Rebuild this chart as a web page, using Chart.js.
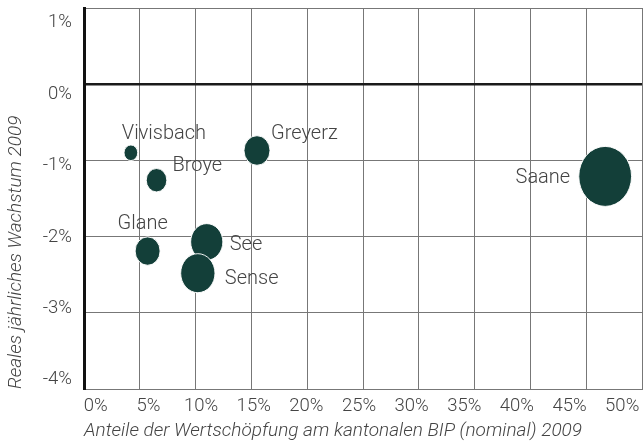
<!DOCTYPE html>
<html>
<head>
<meta charset="utf-8">
<script src="https://cdn.jsdelivr.net/npm/chart.js@4"></script>
<style>
  html, body { margin: 0; padding: 0; background: #fff; }
  #wrap { width: 643px; height: 447px; }
</style>
</head>
<body>
<div id="wrap"><canvas id="chart" width="643" height="447"></canvas></div>
<script>
// Bezirke: Anteil am kantonalen BIP (%) vs. reales Wachstum 2009 (%)
const regions = ["Vivisbach", "Broye", "Greyerz", "Saane", "Glane", "See", "Sense"];
const shareBip = [4.2, 6.5, 15.5, 46.7, 5.7, 11.0, 10.2];
const growth = [-0.9, -1.26, -0.87, -1.21, -2.19, -2.07, -2.48];
const bubbleSize = [7.8, 11.7, 14.8, 30, 14.2, 18.3, 19.5];

const xTicks = [0, 5, 10, 15, 20, 25, 30, 35, 40, 45, 50];
const yTicks = [1, 0, -1, -2, -3, -4];

const FONT = "Roboto";
const TEXT = "#444444";
const GREEN = "#133f39";
const GRID = "#777777";

// where each name sits relative to its bubble
const labelPlacement = {
  Vivisbach: { dx: -9, dy: -14, align: "left" },
  Broye: { dx: 16, dy: -9, align: "left" },
  Greyerz: { dx: 14, dy: -11, align: "left" },
  Saane: { dx: -35, dy: 7, align: "right" },
  Glane: { dx: -30, dy: -22, align: "left" },
  See: { dx: 23, dy: 8, align: "left" },
  Sense: { dx: 27, dy: 11, align: "left" },
};

const ellipses = {
  id: "ellipses",
  beforeDatasetDraw(chart, args) {
    const ctx = chart.ctx;
    args.meta.data.forEach((el) => {
      ctx.save();
      ctx.translate(el.x, el.y);
      ctx.scale(0.88, 1);
      ctx.translate(-el.x, -el.y);
      el.draw(ctx, chart.chartArea);
      ctx.restore();
    });
    return false;
  },
};

const nameLabels = {
  id: "nameLabels",
  afterDatasetsDraw(chart) {
    const ctx = chart.ctx;
    const meta = chart.getDatasetMeta(0);
    ctx.save();
    ctx.font = "300 20px " + FONT;
    ctx.fillStyle = TEXT;
    ctx.textBaseline = "alphabetic";
    meta.data.forEach((el, i) => {
      const p = labelPlacement[regions[i]];
      ctx.textAlign = p.align;
      ctx.fillText(regions[i], el.x + p.dx, el.y + p.dy);
    });
    ctx.restore();
  },
};

const tickFont = { family: FONT, size: 18.5, weight: 300 };
const titleFont = { family: FONT, size: 19, weight: 300, style: "italic" };

new Chart(document.getElementById("chart"), {
  type: "bubble",
  data: {
    datasets: [
      {
        label: "Bezirke",
        data: regions.map((r, i) => ({ x: shareBip[i], y: growth[i], r: bubbleSize[i] })),
        backgroundColor: GREEN,
        borderColor: "#ffffff",
        borderWidth: 1,
      },
    ],
  },
  options: {
    responsive: false,
    animation: false,
    layout: { autoPadding: false, padding: { top: 8, right: 1, left: 0, bottom: 0 } },
    plugins: { legend: { display: false }, tooltip: { enabled: false } },
    scales: {
      x: {
        type: "linear",
        axis: "x",
        position: "bottom",
        weight: 0,
        min: 0,
        max: 50,
        ticks: { display: false, stepSize: 5 },
        grid: {
          drawTicks: false,
          color: (c) => (c.tick && c.tick.value === 0 ? "rgba(0,0,0,0)" : GRID),
          lineWidth: 1,
        },
        border: { display: true, color: GRID, width: 1 },
        afterFit: (s) => {
          s.height = 0;
        },
      },
      xLabels: {
        type: "linear",
        axis: "x",
        position: "bottom",
        weight: 1,
        min: -1.121,
        max: 51.88,
        afterBuildTicks: (s) => {
          s.ticks = xTicks.map((v) => ({ value: v }));
        },
        ticks: {
          callback: (v) => v + "%",
          font: tickFont,
          color: TEXT,
          padding: 6,
          maxRotation: 0,
          autoSkip: false,
        },
        grid: { display: false, drawTicks: false },
        border: { display: false },
        title: {
          display: true,
          text: "Anteile der Wertschöpfung am kantonalen BIP (nominal) 2009",
          align: "start",
          font: titleFont,
          color: TEXT,
          padding: { top: 0, bottom: 4 },
        },
        afterFit: (s) => {
          s.height = 58;
          s.paddingLeft = 0;
          s.paddingRight = 0;
        },
      },
      y: {
        type: "linear",
        axis: "y",
        position: "left",
        weight: 0,
        min: -4,
        max: 1,
        ticks: { display: false, stepSize: 1 },
        grid: {
          drawTicks: false,
          color: (c) => (c.tick && c.tick.value === 0 ? "#1a1a1a" : GRID),
          lineWidth: (c) => (c.tick && c.tick.value === 0 ? 2.5 : 1),
        },
        border: { display: true, color: "#111111", width: 3 },
        afterFit: (s) => {
          s.width = 0;
        },
      },
      yLabels: {
        type: "linear",
        axis: "y",
        position: "left",
        weight: 1,
        min: -4.129,
        max: 1.207,
        afterBuildTicks: (s) => {
          s.ticks = yTicks.map((v) => ({ value: v }));
        },
        ticks: {
          callback: (v) => v + "%",
          font: tickFont,
          color: TEXT,
          padding: 12,
          autoSkip: false,
        },
        grid: { display: false, drawTicks: false },
        border: { display: false },
        title: {
          display: true,
          text: "Reales jährliches Wachstum 2009",
          align: "start",
          font: titleFont,
          color: TEXT,
          padding: { top: 5, bottom: 0 },
        },
        afterFit: (s) => {
          s.width = 84;
          s.paddingTop = 0;
          s.paddingBottom = 0;
        },
      },
    },
  },
  plugins: [ellipses, nameLabels],
});
</script>
</body>
</html>
